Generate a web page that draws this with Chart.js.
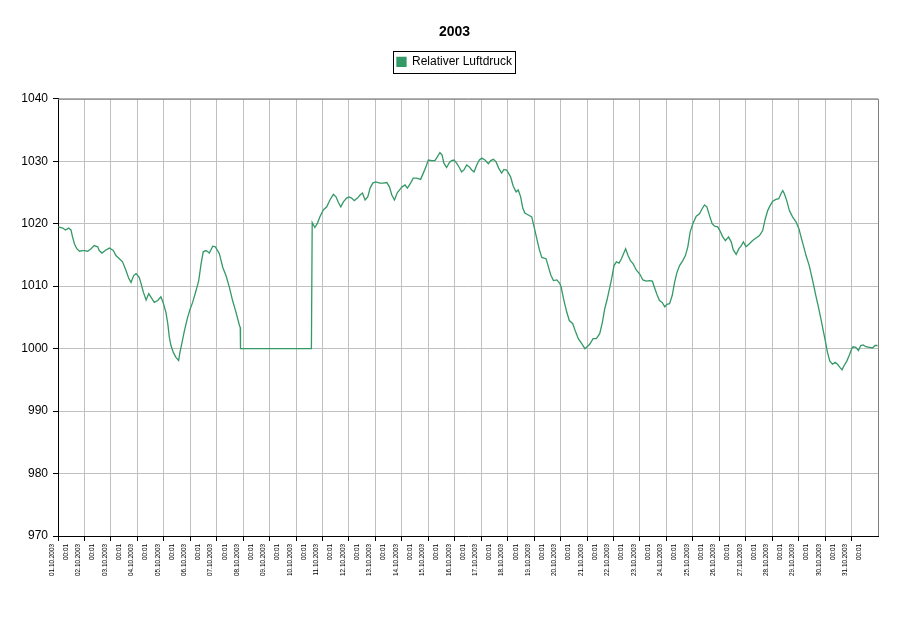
<!DOCTYPE html>
<html>
<head>
<meta charset="utf-8">
<script src="https://cdn.jsdelivr.net/npm/chart.js@4/dist/chart.umd.min.js"></script>
<style>
html,body{margin:0;padding:0;background:#fff;}
#wrap{width:909px;height:634px;}
</style>
</head>
<body>
<div id="wrap"><canvas id="c" width="909" height="634"></canvas></div>
<script>
// ---- data (time in days since 01.10.2003 00:01) ----
const titleText = '2003';
const seriesName = 'Relativer Luftdruck';
const tickDates = ['01.10.2003','02.10.2003','03.10.2003','04.10.2003','05.10.2003','06.10.2003','07.10.2003','08.10.2003','09.10.2003','10.10.2003','11.10.2003','12.10.2003','13.10.2003','14.10.2003','15.10.2003','16.10.2003','17.10.2003','18.10.2003','19.10.2003','20.10.2003','21.10.2003','22.10.2003','23.10.2003','24.10.2003','25.10.2003','26.10.2003','27.10.2003','28.10.2003','29.10.2003','30.10.2003','31.10.2003'];
const tickTime = '00:01';
const yTicks = [970, 980, 990, 1000, 1010, 1020, 1030, 1040];

const days = [
0.00,0.18,0.28,0.40,0.49,0.55,0.62,0.71,0.81,0.93,
1.00,1.12,1.25,1.37,1.50,1.56,1.66,1.81,1.94,2.09,
2.19,2.32,2.44,2.57,2.67,2.76,2.86,2.95,3.07,3.14,
3.23,3.33,3.43,3.52,3.64,3.77,3.89,3.98,4.08,4.15,
4.21,4.27,4.36,4.46,4.56,4.61,4.69,4.78,4.90,5.00,
5.09,5.22,5.32,5.41,5.49,5.60,5.72,5.85,5.95,6.10,
6.23,6.35,6.48,6.60,6.73,6.86,6.89,6.90,9.58,9.61,
9.71,9.81,9.91,10.03,10.16,10.28,10.41,10.51,10.60,10.69,
10.79,10.91,11.01,11.10,11.20,11.32,11.42,11.51,11.61,11.71,
11.80,11.90,12.01,12.17,12.30,12.43,12.53,12.62,12.72,12.83,
12.93,13.01,13.12,13.21,13.33,13.43,13.56,13.71,13.81,13.91,
14.00,14.13,14.25,14.34,14.44,14.52,14.59,14.69,14.80,14.88,
14.97,15.07,15.17,15.26,15.36,15.45,15.55,15.64,15.73,15.83,
15.93,16.02,16.14,16.27,16.36,16.46,16.56,16.66,16.77,16.86,
16.96,17.03,17.11,17.21,17.32,17.40,17.49,17.57,17.65,17.78,
17.91,18.01,18.10,18.20,18.29,18.45,18.54,18.63,18.73,18.86,
18.96,19.02,19.11,19.23,19.33,19.46,19.55,19.67,19.80,19.92,
20.10,20.23,20.35,20.48,20.58,20.67,20.75,20.86,20.94,21.02,
21.11,21.21,21.30,21.38,21.46,21.55,21.64,21.74,21.86,22.00,
22.11,22.24,22.36,22.47,22.55,22.64,22.74,22.84,22.94,23.02,
23.12,23.22,23.31,23.40,23.50,23.62,23.72,23.81,23.90,24.00,
24.13,24.25,24.35,24.44,24.53,24.63,24.73,24.82,24.94,25.02,
25.13,25.23,25.35,25.45,25.53,25.64,25.74,25.82,25.91,26.01,
26.14,26.26,26.39,26.52,26.64,26.74,26.83,26.92,27.02,27.14,
27.25,27.33,27.40,27.46,27.55,27.65,27.77,27.90,28.01,28.09,
28.18,28.28,28.40,28.53,28.65,28.75,28.84,28.93,29.02,29.09,
29.18,29.28,29.38,29.47,29.56,29.64,29.72,29.82,29.91,30.01,
30.06,30.16,30.26,30.35,30.44,30.54,30.67,30.79,30.89,30.98
];
const pressure = [
1019.5,1019.3,1019.0,1019.3,1019.0,1017.9,1016.8,1016.0,1015.6,1015.7,
1015.7,1015.6,1016.0,1016.5,1016.3,1015.7,1015.3,1015.8,1016.1,1015.7,
1014.9,1014.4,1013.9,1012.5,1011.3,1010.6,1011.7,1012.0,1011.4,1010.4,
1009.0,1007.8,1008.8,1008.2,1007.4,1007.7,1008.3,1007.3,1005.8,1004.0,
1001.8,1000.5,999.4,998.6,998.1,999.4,1001.0,1002.9,1005.0,1006.4,
1007.4,1009.3,1010.9,1013.6,1015.5,1015.7,1015.3,1016.4,1016.3,1015.2,
1013.0,1011.7,1009.8,1007.7,1005.8,1003.7,1003.4,1000.0,1000.0,1020.2,
1019.4,1020.1,1021.2,1022.2,1022.7,1023.8,1024.7,1024.3,1023.4,1022.7,
1023.5,1024.1,1024.3,1024.1,1023.7,1024.1,1024.6,1024.9,1023.8,1024.3,
1025.7,1026.5,1026.7,1026.5,1026.5,1026.6,1025.9,1024.6,1023.8,1025.0,
1025.5,1025.9,1026.2,1025.7,1026.5,1027.3,1027.3,1027.1,1028.1,1029.1,
1030.2,1030.1,1030.1,1030.7,1031.4,1031.0,1029.7,1029.0,1029.8,1030.1,
1030.2,1029.7,1029.0,1028.3,1028.7,1029.4,1029.1,1028.6,1028.3,1029.4,
1030.2,1030.5,1030.2,1029.6,1030.1,1030.3,1029.9,1028.9,1028.1,1028.7,
1028.6,1028.1,1027.5,1026.0,1025.1,1025.4,1024.3,1022.5,1021.7,1021.4,
1021.1,1019.3,1017.6,1015.8,1014.6,1014.4,1013.1,1011.8,1010.9,1011.0,
1010.5,1009.9,1008.0,1005.9,1004.5,1004.0,1002.9,1001.6,1000.8,1000.0,
1000.7,1001.6,1001.6,1002.4,1004.2,1006.4,1007.7,1009.8,1011.4,1013.3,
1013.9,1013.7,1014.4,1015.2,1016.0,1014.9,1014.1,1013.6,1012.6,1011.9,
1011.0,1010.8,1010.9,1010.8,1009.8,1008.7,1007.7,1007.4,1006.7,1007.1,
1007.2,1008.5,1010.6,1012.2,1013.3,1014.1,1014.9,1016.3,1018.7,1020.0,
1021.2,1021.6,1022.4,1023.0,1022.7,1021.3,1020.0,1019.6,1019.5,1018.9,
1017.9,1017.3,1017.9,1017.1,1015.8,1015.1,1016.0,1016.4,1017.1,1016.3,
1016.8,1017.3,1017.7,1018.1,1018.9,1020.8,1022.1,1022.9,1023.6,1023.9,
1024.0,1024.8,1025.3,1024.8,1023.7,1022.1,1021.1,1020.3,1019.2,1017.9,
1016.5,1014.9,1013.3,1010.9,1008.5,1006.6,1004.8,1002.9,1001.0,999.4,
998.0,997.5,997.8,997.5,997.0,996.6,997.3,998.0,998.9,1000.0,
1000.3,1000.2,999.7,1000.5,1000.6,1000.3,1000.2,1000.1,1000.5,1000.5
];

const FONT = '"Liberation Sans", Arial, Helvetica, sans-serif';
const GREEN = '#339966';

const points = days.map((d, i) => ({x: d, y: pressure[i]}));

const legendPatch = {
  id: 'legendPatch',
  beforeLayout(chart) {
    const lg = chart.legend;
    if (lg && !lg._patched) {
      const orig = lg.fit;
      lg.fit = function () { orig.call(this); this.height = 58; };
      lg._patched = true;
    }
  }
};

const frame = {
  id: 'frame',
  afterDraw(chart) {
    const ctx = chart.ctx, a = chart.chartArea;
    ctx.save();
    ctx.strokeStyle = '#808080';
    ctx.lineWidth = 1;
    ctx.beginPath();
    ctx.moveTo(a.left, a.top + 0.5);
    ctx.lineTo(a.right + 0.5, a.top + 0.5);
    ctx.lineTo(a.right + 0.5, a.bottom);
    ctx.stroke();
    const hb = chart.legend && chart.legend.legendHitBoxes && chart.legend.legendHitBoxes[0];
    if (hb) {
      ctx.strokeStyle = '#000';
      ctx.strokeRect(Math.round(hb.left - 4) + 0.5, Math.round(hb.top - 5) + 0.5, Math.round(hb.width + 7), Math.round(hb.height + 10));
    }
    ctx.restore();
  }
};

new Chart(document.getElementById('c'), {
  type: 'line',
  data: {
    datasets: [{
      label: seriesName,
      data: points,
      borderColor: GREEN,
      backgroundColor: GREEN,
      borderWidth: 1.3,
      pointRadius: 0,
      tension: 0,
      fill: false
    }]
  },
  options: {
    responsive: false,
    animation: false,
    devicePixelRatio: 1,
    layout: {padding: {left: 0, right: 0, top: 0, bottom: 0}},
    plugins: {
      title: {
        display: true,
        text: titleText,
        color: '#000',
        font: {family: FONT, size: 14, weight: 'bold', lineHeight: 1.2},
        padding: {top: 24, bottom: 0}
      },
      legend: {
        display: true,
        labels: {
          color: '#000',
          font: {family: FONT, size: 12},
          boxWidth: 9,
          boxHeight: 9,
          padding: 15
        }
      },
      tooltip: {enabled: false}
    },
    scales: {
      x: {
        type: 'linear',
        min: 0,
        max: 31,
        afterBuildTicks(scale) {
          scale.ticks = tickDates.map((_, i) => ({value: i})).concat([{value: 31}]);
        },
        afterFit(scale) { scale.height = 98; },
        ticks: {
          autoSkip: false,
          minRotation: 90,
          maxRotation: 90,
          padding: 3,
          labelOffset: -6,
          color: '#000',
          font: {family: FONT, size: 6.4, lineHeight: 2.2},
          callback: (v) => (v >= 0 && v < tickDates.length) ? [tickDates[v], tickTime] : ''
        },
        grid: {
          color: '#c0c0c0', lineWidth: 1, tickLength: 5,
          tickColor: (c) => (c.tick && c.tick.value >= tickDates.length) ? 'rgba(0,0,0,0)' : '#000'
        },
        border: {color: '#000', width: 1}
      },
      y: {
        min: 970,
        max: 1040,
        afterBuildTicks(scale) { scale.ticks = yTicks.map(v => ({value: v})); },
        afterFit(scale) { scale.width = 58; },
        ticks: {
          padding: 5,
          color: '#000',
          font: {family: FONT, size: 12},
          callback: (v) => String(v)
        },
        grid: {color: '#c0c0c0', lineWidth: 1, tickLength: 5, tickColor: '#000'},
        border: {color: '#000', width: 1}
      },
      yRight: {
        position: 'right',
        min: 970,
        max: 1040,
        display: true,
        afterFit(scale) { scale.width = 31; },
        ticks: {display: false},
        grid: {display: false, drawTicks: false},
        border: {display: false}
      }
    }
  },
  plugins: [legendPatch, frame]
});
</script>
</body>
</html>
